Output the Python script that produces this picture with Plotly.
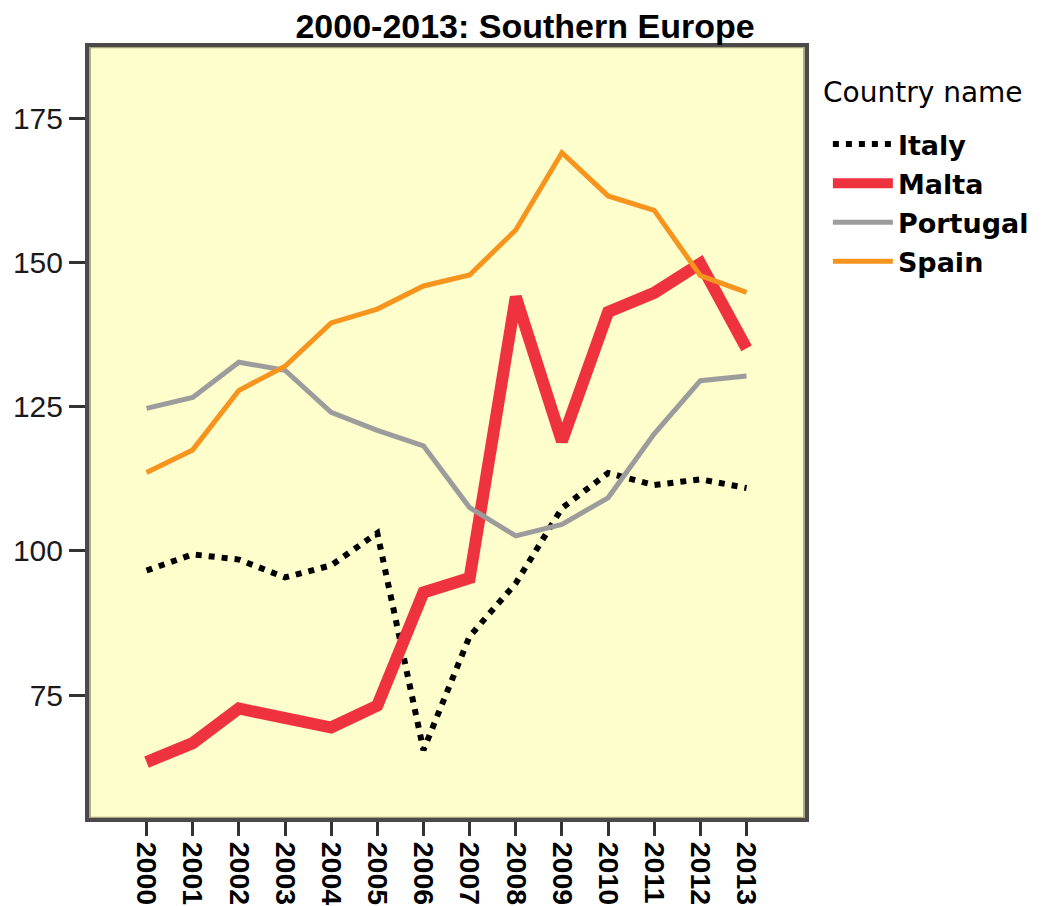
import plotly.graph_objects as go

years = list(range(2000, 2014))
year_labels = [str(y) for y in years]
italy = [96.6, 99.4, 98.5, 95.4, 97.5, 103.1, 65.5, 85.2, 94.4, 107.4, 113.5, 111.4, 112.4, 110.9]
malta = [63.4, 66.7, 72.7, 70.8, 69.4, 73.2, 92.8, 95.3, 144.0, 119.0, 141.4, 144.7, 149.8, 135.1]
portugal = [124.7, 126.6, 132.7, 131.3, 124.0, 120.9, 118.2, 107.5, 102.6, 104.6, 109.2, 120.3, 129.5, 130.3]
spain = [113.6, 117.5, 127.8, 132.0, 139.5, 141.9, 145.9, 147.8, 155.6, 169.0, 161.5, 159.0, 147.7, 144.8]
y_ticks = [75, 100, 125, 150, 175]

series = [
    ("Italy", italy, dict(color="#000000", width=6, dash="6px,7px")),
    ("Malta", malta, dict(color="#EE323E", width=12)),
    ("Portugal", portugal, dict(color="#9C9C9C", width=5)),
    ("Spain", spain, dict(color="#F7941D", width=5)),
]

fig = go.Figure()
for name, vals, line in series:
    fig.add_trace(go.Scatter(x=years, y=vals, mode="lines", name=name, line=line,
                             legendgroup=name))

# page body has an 8px margin, so the figure is 8px smaller and margins are reduced by 8px
fig.update_layout(
    width=1048, height=898,
    margin=dict(l=79, r=249, t=37, b=86, autoexpand=False),
    paper_bgcolor="white",
    plot_bgcolor="#FEFDCC",
    title=dict(text="<b>2000-2013: Southern Europe</b>", x=(525 - 8) / 1048, xref="container", xanchor="center",
               y=1 - 18 / 898, yref="container", yanchor="middle",
               font=dict(family="Liberation Sans", size=34, color="black")),
    xaxis=dict(range=[1998.71, 2014.31], tickvals=years, ticktext=year_labels, tickangle=90,
               showgrid=False, zeroline=False, ticks="outside", ticklen=15, tickwidth=3, automargin=False,
               tickcolor="#333333", tickfont=dict(family="Liberation Sans", size=28.5, color="black", weight="bold"),
               showline=False),
    yaxis=dict(range=[53.38, 187.65], tickvals=y_ticks, showgrid=False, zeroline=False, automargin=False,
               ticks="outside", ticklen=17, tickwidth=3, tickcolor="#333333",
               tickfont=dict(family="Liberation Sans", size=30, color="#1a1a1a"), showline=False),
    legend=dict(x=1.029, y=0.9032, xanchor="left", yanchor="top",
                font=dict(family="DejaVu Sans", size=27, color="black", weight="bold"),
                itemwidth=60, tracegroupgap=1, bgcolor="rgba(0,0,0,0)"),
    annotations=[
        dict(text="Country name", xref="paper", yref="paper", x=(821 - 87) / 720, y=(820 - 93) / 775,
             xanchor="left", yanchor="middle", showarrow=False,
             font=dict(family="DejaVu Sans", size=28, color="black", weight="normal")),
    ],
    shapes=[
        dict(type="rect", xref="paper", yref="paper", x0=0, x1=1, y0=0, y1=1,
             line=dict(color="#4A4A4A", width=4), layer="above"),
        dict(type="rect", xref="paper", yref="paper", x0=0.004, x1=0.996, y0=0.003, y1=0.997,
             line=dict(color="#A9A77E", width=2), layer="below"),
    ],
)
fig.write_html("out.html")
